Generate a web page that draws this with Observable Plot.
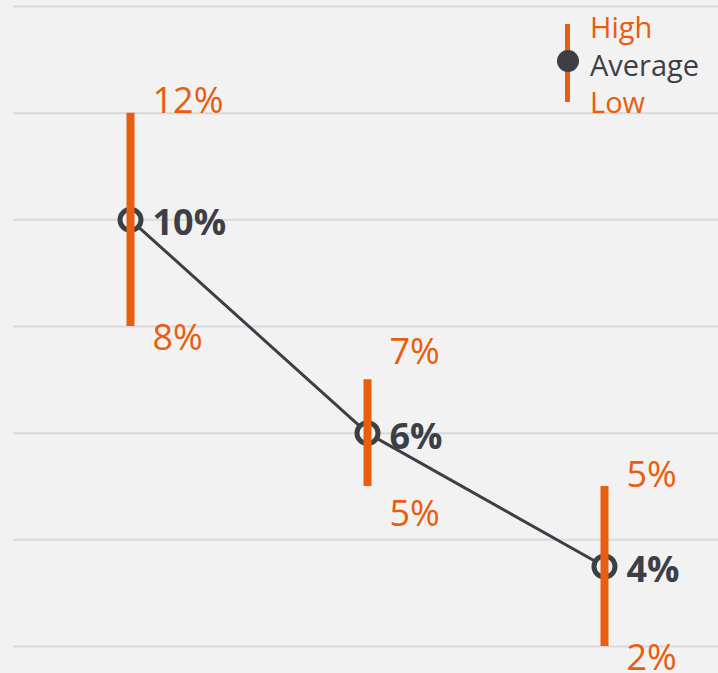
<!DOCTYPE html>
<html>
<head>
<meta charset="utf-8">
<script src="https://cdn.jsdelivr.net/npm/d3@7"></script>
<script src="https://cdn.jsdelivr.net/npm/@observablehq/plot@0.6"></script>
<style>
  html, body { margin: 0; padding: 0; background: #f2f2f2; }
  #chart { position: relative; width: 718px; height: 673px; overflow: hidden; }
  #chart svg { display: block; }
  #legend { position: absolute; left: 550px; top: 0; }
</style>
</head>
<body>
<div id="chart"></div>
<script>
// Range estimates per period (percent)
const periods = ["P1", "P2", "P3"];
const average = [10, 6, 3.5];
const high = [12, 7, 5];
const low = [8, 5, 2];
const gridTicks = [2, 4, 6, 8, 10, 12, 14];

const orange = "#e95d0f";
const dark = "#3c4046";
const bg = "#f2f2f2";
const font = "'Open Sans', 'Noto Sans', sans-serif";

const rows = periods.map((p, i) => ({ period: p, avg: average[i], high: high[i], low: low[i] }));
const pct = d3.format(".0%");
const fmt = v => pct(v / 100);

// keep the range labels clear of the bold average label
const gap = 1.3;

const plot = Plot.plot({
  width: 718,
  height: 673,
  marginLeft: 13,
  marginRight: 0,
  marginTop: 6,
  marginBottom: 27,
  style: { background: bg, fontFamily: font, overflow: "visible" },
  x: { type: "point", domain: periods, range: [129, 604], padding: 0, axis: null },
  y: { domain: [2, 14], axis: null },
  marks: [
    Plot.ruleY(gridTicks, { stroke: "#d7d9dc", strokeWidth: 2 }),
    Plot.line(rows, { x: "period", y: "avg", stroke: dark, strokeWidth: 3 }),
    Plot.dot(rows, { x: "period", y: "avg", r: 10.5, stroke: dark, strokeWidth: 5, fill: bg }),
    Plot.ruleX(rows, { x: "period", y1: "low", y2: "high", stroke: orange, strokeWidth: 8 }),
    Plot.text(rows, {
      x: "period", y: "avg", text: d => fmt(d.avg),
      dx: 22, dy: 4, textAnchor: "start", lineAnchor: "middle",
      fill: dark, fontSize: 36, fontWeight: "bold"
    }),
    Plot.text(rows, {
      x: "period", y: d => Math.max(d.high, d.avg + gap), text: d => fmt(d.high),
      dx: 22, textAnchor: "start", lineAnchor: "bottom",
      fill: orange, fontSize: 36
    }),
    Plot.text(rows, {
      x: "period", y: d => Math.min(d.low, d.avg - gap), text: d => fmt(d.low),
      dx: 22, dy: -2, textAnchor: "start", lineAnchor: "top",
      fill: orange, fontSize: 36
    })
  ]
});

const chart = document.getElementById("chart");
chart.appendChild(plot);

// Legend: range bar with the average dot, and the three labels
const legend = d3.select(chart).append("svg")
  .attr("id", "legend")
  .attr("width", 168)
  .attr("height", 130)
  .style("font-family", font);
legend.append("line")
  .attr("x1", 17.5).attr("x2", 17.5).attr("y1", 24).attr("y2", 102)
  .attr("stroke", orange).attr("stroke-width", 5);
legend.append("circle")
  .attr("cx", 18).attr("cy", 61).attr("r", 11).attr("fill", dark);
const items = [["High", orange, 38], ["Average", dark, 76], ["Low", orange, 113]];
legend.selectAll("text.item").data(items).join("text")
  .attr("class", "item")
  .attr("x", 40).attr("y", d => d[2])
  .attr("fill", d => d[1])
  .attr("font-size", 29)
  .text(d => d[0]);
</script>
</body>
</html>
